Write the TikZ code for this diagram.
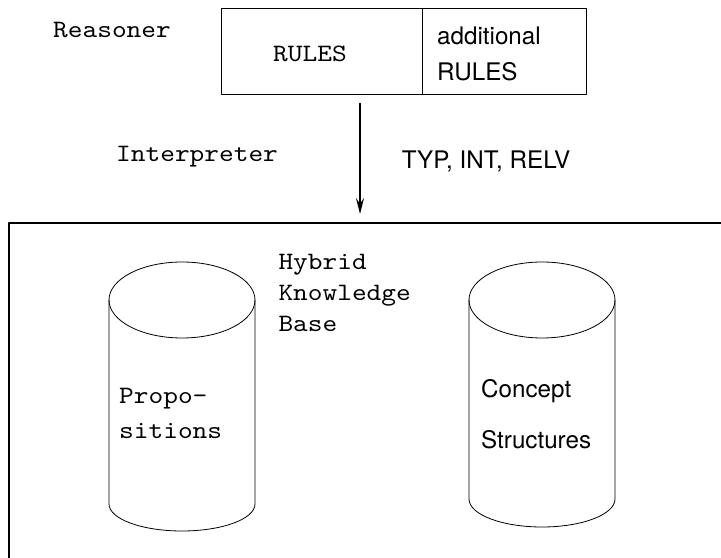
\documentclass[tikz,border=0pt]{standalone}
\usepackage{fontspec}
\newfontfamily\herosfont{TeX Gyre Heros}
\newfontfamily\typefont{lmmono10-regular.otf}[FakeStretch=1.12]
\usetikzlibrary{arrows.meta}
\newcommand\kbmono{\fontsize{25bp}{31bp}\selectfont\typefont}
\newcommand\kbsans{\fontsize{24.2bp}{36bp}\selectfont\herosfont}
\tikzset{
  mono/.style={font=\kbmono,inner sep=0pt,anchor=base west},
  sans/.style={font=\kbsans,inner sep=0pt,anchor=base west},
  rulebox/.style={draw,line width=0.9bp,inner sep=0pt},
  kbbox/.style={draw,line width=2bp,inner sep=0pt},
  cyl/.style={draw,line width=0.8bp},
  flow/.style={->,line width=1.3bp},
}
\begin{document}
\begin{tikzpicture}[>={Stealth[length=16bp,width=8bp,inset=6bp]},line join=bevel,]
%%
\useasboundingbox (0bp,0bp) rectangle (721bp,558bp);
\clip (0bp,0bp) rectangle (721bp,558bp);
  \node (rules) at (321.5bp,507bp) [rulebox,minimum width=201bp,minimum height=86bp] {};
  \node (addrules) at (504bp,507bp) [rulebox,minimum width=164bp,minimum height=86bp] {};
  \node (kb) at (384.5bp,147.5bp) [kbbox,minimum width=751bp,minimum height=375bp] {};
  \node (reasoner) at (53bp,520.7bp) [mono] {Reasoner};
  \node (rulestext) at (273bp,496.3bp) [mono] {RULES};
  \node (addtext) at (437bp,477bp) [sans,align=left] {additional\\RULES};
  \node (interpreter) at (116bp,396.3bp) [mono] {Interpreter};
  \node (ops) at (401.7bp,389.7bp) [sans] {TYP, INT, RELV};
  \node (kbtext) at (278.3bp,226.3bp) [mono,align=left] {Hybrid\\Knowledge\\Base};
  % cylinders
  \draw [cyl] (182bp,258bp) ellipse [x radius=73bp,y radius=38bp];
  \draw [cyl] (109bp,258bp) -- (109bp,54bp) arc [start angle=180,end angle=360,x radius=73bp,y radius=27bp] -- (255bp,258bp);
  \draw [cyl] (542bp,258bp) ellipse [x radius=73bp,y radius=38bp];
  \draw [cyl] (469bp,258bp) -- (469bp,59bp) arc [start angle=180,end angle=360,x radius=73bp,y radius=28bp] -- (615bp,258bp);
  \node (props) at (119bp,119.7bp) [mono,align=left] {Propo-\\[3.3bp]sitions};
  \node (concepts) at (481bp,109.7bp) [sans,align=left] {Concept\\[14.8bp]Structures};
  \coordinate (arrowx) at (360bp,0bp);
  \draw [flow,shorten <=9bp,shorten >=8bp] (rules.south -| arrowx) -- (kb.north -| arrowx);
%
\end{tikzpicture}
\end{document}
